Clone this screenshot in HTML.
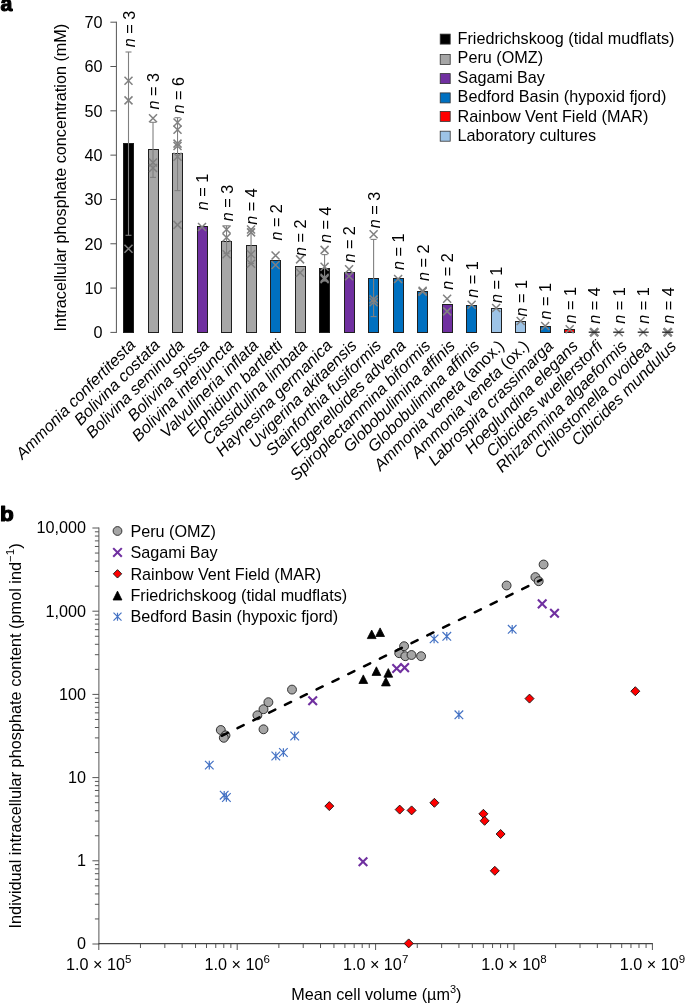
<!DOCTYPE html>
<html><head><meta charset="utf-8"><style>
html,body{margin:0;padding:0;background:#fff;overflow:hidden;}
svg{display:block;will-change:transform;}
text{font-family:"Liberation Sans", sans-serif;fill:#000;}
.b{font-weight:bold;}
</style></head><body>
<svg width="685" height="1004" viewBox="0 0 685 1004">
<text transform="translate(0.4,11.4) scale(0.99,1)" class="b" font-size="21.5" stroke="#000" stroke-width="1.1" stroke-linejoin="round">a</text>
<line x1="116.4" y1="21.70" x2="116.4" y2="332.90" stroke="#555" stroke-width="1"/>
<line x1="110.4" y1="332.40" x2="116.4" y2="332.40" stroke="#555" stroke-width="1"/>
<text x="102.5" y="338.20" text-anchor="end" font-size="16.2">0</text>
<line x1="110.4" y1="288.09" x2="116.4" y2="288.09" stroke="#555" stroke-width="1"/>
<text x="102.5" y="293.89" text-anchor="end" font-size="16.2">10</text>
<line x1="110.4" y1="243.77" x2="116.4" y2="243.77" stroke="#555" stroke-width="1"/>
<text x="102.5" y="249.57" text-anchor="end" font-size="16.2">20</text>
<line x1="110.4" y1="199.46" x2="116.4" y2="199.46" stroke="#555" stroke-width="1"/>
<text x="102.5" y="205.26" text-anchor="end" font-size="16.2">30</text>
<line x1="110.4" y1="155.14" x2="116.4" y2="155.14" stroke="#555" stroke-width="1"/>
<text x="102.5" y="160.94" text-anchor="end" font-size="16.2">40</text>
<line x1="110.4" y1="110.83" x2="116.4" y2="110.83" stroke="#555" stroke-width="1"/>
<text x="102.5" y="116.63" text-anchor="end" font-size="16.2">50</text>
<line x1="110.4" y1="66.51" x2="116.4" y2="66.51" stroke="#555" stroke-width="1"/>
<text x="102.5" y="72.31" text-anchor="end" font-size="16.2">60</text>
<line x1="110.4" y1="22.20" x2="116.4" y2="22.20" stroke="#555" stroke-width="1"/>
<text x="102.5" y="28.00" text-anchor="end" font-size="16.2">70</text>
<text transform="translate(66.4,177.7) rotate(-90)" text-anchor="middle" font-size="16.2">Intracellular phosphate concentration (mM)</text>
<rect x="123.50" y="143.50" width="10" height="189.00" fill="#000000" stroke="#1f1f1f" stroke-width="1.0"/>
<line x1="128.50" y1="52.00" x2="128.50" y2="235.30" stroke="#808080" stroke-width="1.1"/>
<line x1="125.50" y1="52.00" x2="131.50" y2="52.00" stroke="#808080" stroke-width="1.1"/>
<line x1="125.50" y1="235.30" x2="131.50" y2="235.30" stroke="#808080" stroke-width="1.1"/>
<path d="M124.50 76.70L132.50 84.70M124.50 84.70L132.50 76.70" stroke="#808080" stroke-width="1.5" fill="none"/>
<path d="M124.50 96.40L132.50 104.40M124.50 104.40L132.50 96.40" stroke="#808080" stroke-width="1.5" fill="none"/>
<path d="M124.50 244.80L132.50 252.80M124.50 252.80L132.50 244.80" stroke="#808080" stroke-width="1.5" fill="none"/>
<text transform="translate(134.70,47.20) rotate(-90)" font-size="16.2"><tspan font-style="italic">n</tspan> = 3</text>
<text transform="translate(136.30,346.00) rotate(-45)" text-anchor="end" font-size="16.2" font-style="italic">Ammonia confertitesta</text>
<rect x="148.50" y="149.50" width="10" height="183.00" fill="#a6a6a6" stroke="#1f1f1f" stroke-width="1.0"/>
<line x1="153.01" y1="122.30" x2="153.01" y2="177.40" stroke="#808080" stroke-width="1.1"/>
<line x1="150.01" y1="122.30" x2="156.01" y2="122.30" stroke="#808080" stroke-width="1.1"/>
<line x1="150.01" y1="177.40" x2="156.01" y2="177.40" stroke="#808080" stroke-width="1.1"/>
<path d="M149.01 114.30L157.01 122.30M149.01 122.30L157.01 114.30" stroke="#808080" stroke-width="1.5" fill="none"/>
<path d="M149.01 158.50L157.01 166.50M149.01 166.50L157.01 158.50" stroke="#808080" stroke-width="1.5" fill="none"/>
<path d="M149.01 164.00L157.01 172.00M149.01 172.00L157.01 164.00" stroke="#808080" stroke-width="1.5" fill="none"/>
<text transform="translate(159.21,109.50) rotate(-90)" font-size="16.2"><tspan font-style="italic">n</tspan> = 3</text>
<text transform="translate(160.89,346.06) rotate(-45)" text-anchor="end" font-size="16.2" font-style="italic">Bolivina costata</text>
<rect x="172.50" y="153.50" width="10" height="179.00" fill="#a6a6a6" stroke="#1f1f1f" stroke-width="1.0"/>
<line x1="177.52" y1="117.70" x2="177.52" y2="190.60" stroke="#808080" stroke-width="1.1"/>
<line x1="174.52" y1="117.70" x2="180.52" y2="117.70" stroke="#808080" stroke-width="1.1"/>
<line x1="174.52" y1="190.60" x2="180.52" y2="190.60" stroke="#808080" stroke-width="1.1"/>
<path d="M173.52 118.50L181.52 126.50M173.52 126.50L181.52 118.50" stroke="#808080" stroke-width="1.5" fill="none"/>
<path d="M173.52 125.70L181.52 133.70M173.52 133.70L181.52 125.70" stroke="#808080" stroke-width="1.5" fill="none"/>
<path d="M173.52 139.60L181.52 147.60M173.52 147.60L181.52 139.60" stroke="#808080" stroke-width="1.5" fill="none"/>
<path d="M173.52 142.00L181.52 150.00M173.52 150.00L181.52 142.00" stroke="#808080" stroke-width="1.5" fill="none"/>
<path d="M173.52 152.70L181.52 160.70M173.52 160.70L181.52 152.70" stroke="#808080" stroke-width="1.5" fill="none"/>
<path d="M173.52 220.90L181.52 228.90M173.52 228.90L181.52 220.90" stroke="#808080" stroke-width="1.5" fill="none"/>
<text transform="translate(183.72,113.40) rotate(-90)" font-size="16.2"><tspan font-style="italic">n</tspan> = 6</text>
<text transform="translate(185.48,346.12) rotate(-45)" text-anchor="end" font-size="16.2" font-style="italic">Bolivina seminuda</text>
<rect x="197.50" y="226.50" width="10" height="106.00" fill="#7030a0" stroke="#1f1f1f" stroke-width="1.0"/>
<path d="M198.03 223.00L206.03 231.00M198.03 231.00L206.03 223.00" stroke="#808080" stroke-width="1.5" fill="none"/>
<text transform="translate(208.23,210.20) rotate(-90)" font-size="16.2"><tspan font-style="italic">n</tspan> = 1</text>
<text transform="translate(210.07,346.18) rotate(-45)" text-anchor="end" font-size="16.2" font-style="italic">Bolivina spissa</text>
<rect x="221.50" y="241.50" width="10" height="91.00" fill="#a6a6a6" stroke="#1f1f1f" stroke-width="1.0"/>
<line x1="226.54" y1="225.80" x2="226.54" y2="253.60" stroke="#808080" stroke-width="1.1"/>
<line x1="223.54" y1="225.80" x2="229.54" y2="225.80" stroke="#808080" stroke-width="1.1"/>
<line x1="223.54" y1="253.60" x2="229.54" y2="253.60" stroke="#808080" stroke-width="1.1"/>
<path d="M222.54 225.50L230.54 233.50M222.54 233.50L230.54 225.50" stroke="#808080" stroke-width="1.5" fill="none"/>
<path d="M222.54 233.50L230.54 241.50M222.54 241.50L230.54 233.50" stroke="#808080" stroke-width="1.5" fill="none"/>
<path d="M222.54 250.30L230.54 258.30M222.54 258.30L230.54 250.30" stroke="#808080" stroke-width="1.5" fill="none"/>
<text transform="translate(232.74,221.20) rotate(-90)" font-size="16.2"><tspan font-style="italic">n</tspan> = 3</text>
<text transform="translate(234.66,346.24) rotate(-45)" text-anchor="end" font-size="16.2" font-style="italic">Bolivina interjuncta</text>
<rect x="246.50" y="245.50" width="10" height="87.00" fill="#a6a6a6" stroke="#1f1f1f" stroke-width="1.0"/>
<line x1="251.05" y1="229.00" x2="251.05" y2="263.50" stroke="#808080" stroke-width="1.1"/>
<line x1="248.05" y1="229.00" x2="254.05" y2="229.00" stroke="#808080" stroke-width="1.1"/>
<line x1="248.05" y1="263.50" x2="254.05" y2="263.50" stroke="#808080" stroke-width="1.1"/>
<path d="M247.05 225.50L255.05 233.50M247.05 233.50L255.05 225.50" stroke="#808080" stroke-width="1.5" fill="none"/>
<path d="M247.05 228.40L255.05 236.40M247.05 236.40L255.05 228.40" stroke="#808080" stroke-width="1.5" fill="none"/>
<path d="M247.05 250.30L255.05 258.30M247.05 258.30L255.05 250.30" stroke="#808080" stroke-width="1.5" fill="none"/>
<path d="M247.05 259.80L255.05 267.80M247.05 267.80L255.05 259.80" stroke="#808080" stroke-width="1.5" fill="none"/>
<text transform="translate(257.25,224.80) rotate(-90)" font-size="16.2"><tspan font-style="italic">n</tspan> = 4</text>
<text transform="translate(259.25,346.30) rotate(-45)" text-anchor="end" font-size="16.2" font-style="italic">Valvulineria inflata</text>
<rect x="270.50" y="260.50" width="10" height="72.00" fill="#0070c0" stroke="#1f1f1f" stroke-width="1.0"/>
<path d="M271.56 251.50L279.56 259.50M271.56 259.50L279.56 251.50" stroke="#808080" stroke-width="1.5" fill="none"/>
<path d="M271.56 261.00L279.56 269.00M271.56 269.00L279.56 261.00" stroke="#808080" stroke-width="1.5" fill="none"/>
<text transform="translate(281.76,240.60) rotate(-90)" font-size="16.2"><tspan font-style="italic">n</tspan> = 2</text>
<text transform="translate(283.84,346.36) rotate(-45)" text-anchor="end" font-size="16.2" font-style="italic">Elphidium bartletti</text>
<rect x="295.50" y="266.50" width="10" height="66.00" fill="#a6a6a6" stroke="#1f1f1f" stroke-width="1.0"/>
<path d="M296.07 255.40L304.07 263.40M296.07 263.40L304.07 255.40" stroke="#808080" stroke-width="1.5" fill="none"/>
<path d="M296.07 268.80L304.07 276.80M296.07 276.80L304.07 268.80" stroke="#808080" stroke-width="1.5" fill="none"/>
<text transform="translate(306.27,256.00) rotate(-90)" font-size="16.2"><tspan font-style="italic">n</tspan> = 2</text>
<text transform="translate(308.43,346.42) rotate(-45)" text-anchor="end" font-size="16.2" font-style="italic">Cassidulina limbata</text>
<rect x="319.50" y="268.50" width="10" height="64.00" fill="#000000" stroke="#1f1f1f" stroke-width="1.0"/>
<line x1="324.58" y1="254.60" x2="324.58" y2="281.00" stroke="#808080" stroke-width="1.1"/>
<line x1="321.58" y1="254.60" x2="327.58" y2="254.60" stroke="#808080" stroke-width="1.1"/>
<line x1="321.58" y1="281.00" x2="327.58" y2="281.00" stroke="#808080" stroke-width="1.1"/>
<path d="M320.58 245.90L328.58 253.90M320.58 253.90L328.58 245.90" stroke="#808080" stroke-width="1.5" fill="none"/>
<path d="M320.58 262.70L328.58 270.70M320.58 270.70L328.58 262.70" stroke="#808080" stroke-width="1.5" fill="none"/>
<path d="M320.58 273.70L328.58 281.70M320.58 281.70L328.58 273.70" stroke="#808080" stroke-width="1.5" fill="none"/>
<path d="M320.58 275.10L328.58 283.10M320.58 283.10L328.58 275.10" stroke="#808080" stroke-width="1.5" fill="none"/>
<text transform="translate(330.78,242.90) rotate(-90)" font-size="16.2"><tspan font-style="italic">n</tspan> = 4</text>
<text transform="translate(333.02,346.48) rotate(-45)" text-anchor="end" font-size="16.2" font-style="italic">Haynesina germanica</text>
<rect x="344.50" y="272.50" width="10" height="60.00" fill="#7030a0" stroke="#1f1f1f" stroke-width="1.0"/>
<path d="M345.09 265.30L353.09 273.30M345.09 273.30L353.09 265.30" stroke="#808080" stroke-width="1.5" fill="none"/>
<path d="M345.09 272.20L353.09 280.20M345.09 280.20L353.09 272.20" stroke="#808080" stroke-width="1.5" fill="none"/>
<text transform="translate(355.29,262.60) rotate(-90)" font-size="16.2"><tspan font-style="italic">n</tspan> = 2</text>
<text transform="translate(357.61,346.54) rotate(-45)" text-anchor="end" font-size="16.2" font-style="italic">Uvigerina akitaensis</text>
<rect x="368.50" y="278.50" width="10" height="54.00" fill="#0070c0" stroke="#1f1f1f" stroke-width="1.0"/>
<line x1="373.60" y1="239.40" x2="373.60" y2="316.60" stroke="#808080" stroke-width="1.1"/>
<line x1="370.60" y1="239.40" x2="376.60" y2="239.40" stroke="#808080" stroke-width="1.1"/>
<line x1="370.60" y1="316.60" x2="376.60" y2="316.60" stroke="#808080" stroke-width="1.1"/>
<path d="M369.60 230.20L377.60 238.20M369.60 238.20L377.60 230.20" stroke="#808080" stroke-width="1.5" fill="none"/>
<path d="M369.60 295.40L377.60 303.40M369.60 303.40L377.60 295.40" stroke="#808080" stroke-width="1.5" fill="none"/>
<path d="M369.60 298.30L377.60 306.30M369.60 306.30L377.60 298.30" stroke="#808080" stroke-width="1.5" fill="none"/>
<text transform="translate(379.80,228.30) rotate(-90)" font-size="16.2"><tspan font-style="italic">n</tspan> = 3</text>
<text transform="translate(382.20,346.60) rotate(-45)" text-anchor="end" font-size="16.2" font-style="italic">Stainforthia fusiformis</text>
<rect x="393.50" y="278.50" width="10" height="54.00" fill="#0070c0" stroke="#1f1f1f" stroke-width="1.0"/>
<path d="M394.11 275.00L402.11 283.00M394.11 283.00L402.11 275.00" stroke="#808080" stroke-width="1.5" fill="none"/>
<text transform="translate(404.31,269.90) rotate(-90)" font-size="16.2"><tspan font-style="italic">n</tspan> = 1</text>
<text transform="translate(406.79,346.66) rotate(-45)" text-anchor="end" font-size="16.2" font-style="italic">Eggerelloides advena</text>
<rect x="417.50" y="291.50" width="10" height="41.00" fill="#0070c0" stroke="#1f1f1f" stroke-width="1.0"/>
<path d="M418.62 286.70L426.62 294.70M418.62 294.70L426.62 286.70" stroke="#808080" stroke-width="1.5" fill="none"/>
<path d="M418.62 287.80L426.62 295.80M418.62 295.80L426.62 287.80" stroke="#808080" stroke-width="1.5" fill="none"/>
<text transform="translate(428.82,280.90) rotate(-90)" font-size="16.2"><tspan font-style="italic">n</tspan> = 2</text>
<text transform="translate(431.38,346.72) rotate(-45)" text-anchor="end" font-size="16.2" font-style="italic">Spiroplectammina biformis</text>
<rect x="442.50" y="304.50" width="10" height="28.00" fill="#7030a0" stroke="#1f1f1f" stroke-width="1.0"/>
<path d="M443.13 294.70L451.13 302.70M443.13 302.70L451.13 294.70" stroke="#808080" stroke-width="1.5" fill="none"/>
<path d="M443.13 307.40L451.13 315.40M443.13 315.40L451.13 307.40" stroke="#808080" stroke-width="1.5" fill="none"/>
<text transform="translate(453.33,289.70) rotate(-90)" font-size="16.2"><tspan font-style="italic">n</tspan> = 2</text>
<text transform="translate(455.97,346.78) rotate(-45)" text-anchor="end" font-size="16.2" font-style="italic">Globobulimina affinis</text>
<rect x="466.50" y="305.50" width="10" height="27.00" fill="#0070c0" stroke="#1f1f1f" stroke-width="1.0"/>
<path d="M467.64 300.80L475.64 308.80M467.64 308.80L475.64 300.80" stroke="#808080" stroke-width="1.5" fill="none"/>
<text transform="translate(477.84,297.70) rotate(-90)" font-size="16.2"><tspan font-style="italic">n</tspan> = 1</text>
<text transform="translate(480.56,346.84) rotate(-45)" text-anchor="end" font-size="16.2" font-style="italic">Globobulimina affinis</text>
<rect x="491.50" y="308.50" width="10" height="24.00" fill="#9dc3e6" stroke="#1f1f1f" stroke-width="1.0"/>
<path d="M492.15 304.00L500.15 312.00M492.15 312.00L500.15 304.00" stroke="#808080" stroke-width="1.5" fill="none"/>
<text transform="translate(502.35,303.10) rotate(-90)" font-size="16.2"><tspan font-style="italic">n</tspan> = 1</text>
<text transform="translate(505.15,346.90) rotate(-45)" text-anchor="end" font-size="16.2"><tspan font-style="italic">Ammonia veneta</tspan> (anox.)</text>
<rect x="515.50" y="321.50" width="10" height="11.00" fill="#9dc3e6" stroke="#1f1f1f" stroke-width="1.0"/>
<path d="M516.66 317.00L524.66 325.00M516.66 325.00L524.66 317.00" stroke="#808080" stroke-width="1.5" fill="none"/>
<text transform="translate(526.86,316.50) rotate(-90)" font-size="16.2"><tspan font-style="italic">n</tspan> = 1</text>
<text transform="translate(529.74,346.96) rotate(-45)" text-anchor="end" font-size="16.2"><tspan font-style="italic">Ammonia veneta</tspan> (ox.)</text>
<rect x="540.50" y="326.50" width="10" height="6.00" fill="#0070c0" stroke="#1f1f1f" stroke-width="1.0"/>
<path d="M541.17 322.00L549.17 330.00M541.17 330.00L549.17 322.00" stroke="#808080" stroke-width="1.5" fill="none"/>
<text transform="translate(551.37,319.40) rotate(-90)" font-size="16.2"><tspan font-style="italic">n</tspan> = 1</text>
<text transform="translate(554.33,347.02) rotate(-45)" text-anchor="end" font-size="16.2" font-style="italic">Labrospira crassimarga</text>
<rect x="564.50" y="329.50" width="10" height="3.00" fill="#ff0000" stroke="#1f1f1f" stroke-width="1.0"/>
<path d="M565.68 325.30L573.68 333.30M565.68 333.30L573.68 325.30" stroke="#808080" stroke-width="1.5" fill="none"/>
<text transform="translate(575.88,323.50) rotate(-90)" font-size="16.2"><tspan font-style="italic">n</tspan> = 1</text>
<text transform="translate(578.92,347.08) rotate(-45)" text-anchor="end" font-size="16.2" font-style="italic">Hoeglundina elegans</text>
<path d="M590.19 328.30L598.19 336.30M590.19 336.30L598.19 328.30" stroke="#808080" stroke-width="2.2" fill="none"/>
<path d="M590.19 328.30L598.19 336.30M590.19 336.30L598.19 328.30" stroke="#808080" stroke-width="2.2" fill="none"/>
<line x1="588.69" y1="332.2" x2="599.69" y2="332.2" stroke="#1f1f1f" stroke-width="1.3"/>
<text transform="translate(600.39,323.80) rotate(-90)" font-size="16.2"><tspan font-style="italic">n</tspan> = 4</text>
<text transform="translate(603.51,347.14) rotate(-45)" text-anchor="end" font-size="16.2" font-style="italic">Cibicides wuellerstorfi</text>
<path d="M614.70 328.30L622.70 336.30M614.70 336.30L622.70 328.30" stroke="#808080" stroke-width="1.5" fill="none"/>
<line x1="613.20" y1="332.2" x2="624.20" y2="332.2" stroke="#1f1f1f" stroke-width="1.3"/>
<text transform="translate(624.90,323.80) rotate(-90)" font-size="16.2"><tspan font-style="italic">n</tspan> = 1</text>
<text transform="translate(628.10,347.20) rotate(-45)" text-anchor="end" font-size="16.2" font-style="italic">Rhizammina algaeformis</text>
<path d="M639.21 328.30L647.21 336.30M639.21 336.30L647.21 328.30" stroke="#808080" stroke-width="1.5" fill="none"/>
<line x1="637.71" y1="332.2" x2="648.71" y2="332.2" stroke="#1f1f1f" stroke-width="1.3"/>
<text transform="translate(649.41,323.80) rotate(-90)" font-size="16.2"><tspan font-style="italic">n</tspan> = 1</text>
<text transform="translate(652.69,347.26) rotate(-45)" text-anchor="end" font-size="16.2" font-style="italic">Chilostomella ovoidea</text>
<path d="M663.72 328.30L671.72 336.30M663.72 336.30L671.72 328.30" stroke="#808080" stroke-width="2.2" fill="none"/>
<path d="M663.72 328.30L671.72 336.30M663.72 336.30L671.72 328.30" stroke="#808080" stroke-width="2.2" fill="none"/>
<line x1="662.22" y1="332.2" x2="673.22" y2="332.2" stroke="#1f1f1f" stroke-width="1.3"/>
<text transform="translate(673.92,323.80) rotate(-90)" font-size="16.2"><tspan font-style="italic">n</tspan> = 4</text>
<text transform="translate(677.28,347.32) rotate(-45)" text-anchor="end" font-size="16.2" font-style="italic">Cibicides mundulus</text>
<rect x="440.2" y="34.10" width="10" height="10" fill="#000000" stroke="#333" stroke-width="0.8"/>
<text x="457.6" y="44.00" font-size="16.2">Friedrichskoog (tidal mudflats)</text>
<rect x="440.2" y="54.40" width="10" height="10" fill="#a6a6a6" stroke="#333" stroke-width="0.8"/>
<text x="457.6" y="63.42" font-size="16.2">Peru (OMZ)</text>
<rect x="440.2" y="73.60" width="10" height="10" fill="#7030a0" stroke="#333" stroke-width="0.8"/>
<text x="457.6" y="82.84" font-size="16.2">Sagami Bay</text>
<rect x="440.2" y="92.90" width="10" height="10" fill="#0070c0" stroke="#333" stroke-width="0.8"/>
<text x="457.6" y="102.26" font-size="16.2">Bedford Basin (hypoxid fjord)</text>
<rect x="440.2" y="111.40" width="10" height="10" fill="#ff0000" stroke="#333" stroke-width="0.8"/>
<text x="457.6" y="121.68" font-size="16.2">Rainbow Vent Field (MAR)</text>
<rect x="440.2" y="131.20" width="10" height="10" fill="#9dc3e6" stroke="#333" stroke-width="0.8"/>
<text x="457.6" y="141.10" font-size="16.2">Laboratory cultures</text>
<text transform="translate(-0.1,521.0) scale(1.1,1)" class="b" font-size="20.5" stroke="#000" stroke-width="1.1" stroke-linejoin="round">b</text>
<line x1="98.9" y1="527.50" x2="98.9" y2="944.50" stroke="#555" stroke-width="1"/>
<line x1="98.4" y1="943.7" x2="652.90" y2="943.7" stroke="#444" stroke-width="1.3"/>
<line x1="92.4" y1="944.00" x2="98.9" y2="944.00" stroke="#555" stroke-width="1"/>
<line x1="94.9" y1="918.95" x2="98.9" y2="918.95" stroke="#555" stroke-width="1"/>
<line x1="94.9" y1="904.30" x2="98.9" y2="904.30" stroke="#555" stroke-width="1"/>
<line x1="94.9" y1="893.91" x2="98.9" y2="893.91" stroke="#555" stroke-width="1"/>
<line x1="94.9" y1="885.85" x2="98.9" y2="885.85" stroke="#555" stroke-width="1"/>
<line x1="94.9" y1="879.26" x2="98.9" y2="879.26" stroke="#555" stroke-width="1"/>
<line x1="94.9" y1="873.69" x2="98.9" y2="873.69" stroke="#555" stroke-width="1"/>
<line x1="94.9" y1="868.86" x2="98.9" y2="868.86" stroke="#555" stroke-width="1"/>
<line x1="94.9" y1="864.61" x2="98.9" y2="864.61" stroke="#555" stroke-width="1"/>
<line x1="92.4" y1="860.80" x2="98.9" y2="860.80" stroke="#555" stroke-width="1"/>
<line x1="94.9" y1="835.75" x2="98.9" y2="835.75" stroke="#555" stroke-width="1"/>
<line x1="94.9" y1="821.10" x2="98.9" y2="821.10" stroke="#555" stroke-width="1"/>
<line x1="94.9" y1="810.71" x2="98.9" y2="810.71" stroke="#555" stroke-width="1"/>
<line x1="94.9" y1="802.65" x2="98.9" y2="802.65" stroke="#555" stroke-width="1"/>
<line x1="94.9" y1="796.06" x2="98.9" y2="796.06" stroke="#555" stroke-width="1"/>
<line x1="94.9" y1="790.49" x2="98.9" y2="790.49" stroke="#555" stroke-width="1"/>
<line x1="94.9" y1="785.66" x2="98.9" y2="785.66" stroke="#555" stroke-width="1"/>
<line x1="94.9" y1="781.41" x2="98.9" y2="781.41" stroke="#555" stroke-width="1"/>
<line x1="92.4" y1="777.60" x2="98.9" y2="777.60" stroke="#555" stroke-width="1"/>
<line x1="94.9" y1="752.55" x2="98.9" y2="752.55" stroke="#555" stroke-width="1"/>
<line x1="94.9" y1="737.90" x2="98.9" y2="737.90" stroke="#555" stroke-width="1"/>
<line x1="94.9" y1="727.51" x2="98.9" y2="727.51" stroke="#555" stroke-width="1"/>
<line x1="94.9" y1="719.45" x2="98.9" y2="719.45" stroke="#555" stroke-width="1"/>
<line x1="94.9" y1="712.86" x2="98.9" y2="712.86" stroke="#555" stroke-width="1"/>
<line x1="94.9" y1="707.29" x2="98.9" y2="707.29" stroke="#555" stroke-width="1"/>
<line x1="94.9" y1="702.46" x2="98.9" y2="702.46" stroke="#555" stroke-width="1"/>
<line x1="94.9" y1="698.21" x2="98.9" y2="698.21" stroke="#555" stroke-width="1"/>
<line x1="92.4" y1="694.40" x2="98.9" y2="694.40" stroke="#555" stroke-width="1"/>
<line x1="94.9" y1="669.35" x2="98.9" y2="669.35" stroke="#555" stroke-width="1"/>
<line x1="94.9" y1="654.70" x2="98.9" y2="654.70" stroke="#555" stroke-width="1"/>
<line x1="94.9" y1="644.31" x2="98.9" y2="644.31" stroke="#555" stroke-width="1"/>
<line x1="94.9" y1="636.25" x2="98.9" y2="636.25" stroke="#555" stroke-width="1"/>
<line x1="94.9" y1="629.66" x2="98.9" y2="629.66" stroke="#555" stroke-width="1"/>
<line x1="94.9" y1="624.09" x2="98.9" y2="624.09" stroke="#555" stroke-width="1"/>
<line x1="94.9" y1="619.26" x2="98.9" y2="619.26" stroke="#555" stroke-width="1"/>
<line x1="94.9" y1="615.01" x2="98.9" y2="615.01" stroke="#555" stroke-width="1"/>
<line x1="92.4" y1="611.20" x2="98.9" y2="611.20" stroke="#555" stroke-width="1"/>
<line x1="94.9" y1="586.15" x2="98.9" y2="586.15" stroke="#555" stroke-width="1"/>
<line x1="94.9" y1="571.50" x2="98.9" y2="571.50" stroke="#555" stroke-width="1"/>
<line x1="94.9" y1="561.11" x2="98.9" y2="561.11" stroke="#555" stroke-width="1"/>
<line x1="94.9" y1="553.05" x2="98.9" y2="553.05" stroke="#555" stroke-width="1"/>
<line x1="94.9" y1="546.46" x2="98.9" y2="546.46" stroke="#555" stroke-width="1"/>
<line x1="94.9" y1="540.89" x2="98.9" y2="540.89" stroke="#555" stroke-width="1"/>
<line x1="94.9" y1="536.06" x2="98.9" y2="536.06" stroke="#555" stroke-width="1"/>
<line x1="94.9" y1="531.81" x2="98.9" y2="531.81" stroke="#555" stroke-width="1"/>
<line x1="92.4" y1="528.00" x2="98.9" y2="528.00" stroke="#555" stroke-width="1"/>
<text x="86.1" y="533.30" text-anchor="end" font-size="16.2">10,000</text>
<text x="86.1" y="616.50" text-anchor="end" font-size="16.2">1,000</text>
<text x="86.1" y="699.70" text-anchor="end" font-size="16.2">100</text>
<text x="86.1" y="782.90" text-anchor="end" font-size="16.2">10</text>
<text x="86.1" y="866.10" text-anchor="end" font-size="16.2">1</text>
<text x="86.1" y="949.30" text-anchor="end" font-size="16.2">0</text>
<line x1="98.80" y1="944.0" x2="98.80" y2="950.0" stroke="#555" stroke-width="1"/>
<line x1="140.46" y1="944.0" x2="140.46" y2="948.0" stroke="#555" stroke-width="1"/>
<line x1="164.83" y1="944.0" x2="164.83" y2="948.0" stroke="#555" stroke-width="1"/>
<line x1="182.13" y1="944.0" x2="182.13" y2="948.0" stroke="#555" stroke-width="1"/>
<line x1="195.54" y1="944.0" x2="195.54" y2="948.0" stroke="#555" stroke-width="1"/>
<line x1="206.50" y1="944.0" x2="206.50" y2="948.0" stroke="#555" stroke-width="1"/>
<line x1="215.76" y1="944.0" x2="215.76" y2="948.0" stroke="#555" stroke-width="1"/>
<line x1="223.79" y1="944.0" x2="223.79" y2="948.0" stroke="#555" stroke-width="1"/>
<line x1="230.87" y1="944.0" x2="230.87" y2="948.0" stroke="#555" stroke-width="1"/>
<text x="98.80" y="969.9" text-anchor="middle" font-size="16.2">1.0 × 10<tspan dy="-7.3" font-size="11.5">5</tspan></text>
<line x1="237.20" y1="944.0" x2="237.20" y2="950.0" stroke="#555" stroke-width="1"/>
<line x1="278.86" y1="944.0" x2="278.86" y2="948.0" stroke="#555" stroke-width="1"/>
<line x1="303.23" y1="944.0" x2="303.23" y2="948.0" stroke="#555" stroke-width="1"/>
<line x1="320.53" y1="944.0" x2="320.53" y2="948.0" stroke="#555" stroke-width="1"/>
<line x1="333.94" y1="944.0" x2="333.94" y2="948.0" stroke="#555" stroke-width="1"/>
<line x1="344.90" y1="944.0" x2="344.90" y2="948.0" stroke="#555" stroke-width="1"/>
<line x1="354.16" y1="944.0" x2="354.16" y2="948.0" stroke="#555" stroke-width="1"/>
<line x1="362.19" y1="944.0" x2="362.19" y2="948.0" stroke="#555" stroke-width="1"/>
<line x1="369.27" y1="944.0" x2="369.27" y2="948.0" stroke="#555" stroke-width="1"/>
<text x="237.20" y="969.9" text-anchor="middle" font-size="16.2">1.0 × 10<tspan dy="-7.3" font-size="11.5">6</tspan></text>
<line x1="375.60" y1="944.0" x2="375.60" y2="950.0" stroke="#555" stroke-width="1"/>
<line x1="417.26" y1="944.0" x2="417.26" y2="948.0" stroke="#555" stroke-width="1"/>
<line x1="441.63" y1="944.0" x2="441.63" y2="948.0" stroke="#555" stroke-width="1"/>
<line x1="458.93" y1="944.0" x2="458.93" y2="948.0" stroke="#555" stroke-width="1"/>
<line x1="472.34" y1="944.0" x2="472.34" y2="948.0" stroke="#555" stroke-width="1"/>
<line x1="483.30" y1="944.0" x2="483.30" y2="948.0" stroke="#555" stroke-width="1"/>
<line x1="492.56" y1="944.0" x2="492.56" y2="948.0" stroke="#555" stroke-width="1"/>
<line x1="500.59" y1="944.0" x2="500.59" y2="948.0" stroke="#555" stroke-width="1"/>
<line x1="507.67" y1="944.0" x2="507.67" y2="948.0" stroke="#555" stroke-width="1"/>
<text x="375.60" y="969.9" text-anchor="middle" font-size="16.2">1.0 × 10<tspan dy="-7.3" font-size="11.5">7</tspan></text>
<line x1="514.00" y1="944.0" x2="514.00" y2="950.0" stroke="#555" stroke-width="1"/>
<line x1="555.66" y1="944.0" x2="555.66" y2="948.0" stroke="#555" stroke-width="1"/>
<line x1="580.03" y1="944.0" x2="580.03" y2="948.0" stroke="#555" stroke-width="1"/>
<line x1="597.33" y1="944.0" x2="597.33" y2="948.0" stroke="#555" stroke-width="1"/>
<line x1="610.74" y1="944.0" x2="610.74" y2="948.0" stroke="#555" stroke-width="1"/>
<line x1="621.70" y1="944.0" x2="621.70" y2="948.0" stroke="#555" stroke-width="1"/>
<line x1="630.96" y1="944.0" x2="630.96" y2="948.0" stroke="#555" stroke-width="1"/>
<line x1="638.99" y1="944.0" x2="638.99" y2="948.0" stroke="#555" stroke-width="1"/>
<line x1="646.07" y1="944.0" x2="646.07" y2="948.0" stroke="#555" stroke-width="1"/>
<text x="514.00" y="969.9" text-anchor="middle" font-size="16.2">1.0 × 10<tspan dy="-7.3" font-size="11.5">8</tspan></text>
<line x1="652.40" y1="944.0" x2="652.40" y2="950.0" stroke="#555" stroke-width="1"/>
<text x="652.40" y="969.9" text-anchor="middle" font-size="16.2">1.0 × 10<tspan dy="-7.3" font-size="11.5">9</tspan></text>
<text x="376.3" y="999.6" text-anchor="middle" font-size="16.2">Mean cell volume (µm<tspan dy="-7" font-size="11">3</tspan><tspan dy="7.3">)</tspan></text>
<text transform="translate(21.2,928.5) rotate(-90)" font-size="16.3">Individual intracellular phosphate content (pmol ind<tspan dy="-7.3" font-size="11.6">−1</tspan><tspan dy="7.3">)</tspan></text>
<path d="M209.30 760.80L209.30 769.40M205.00 760.80L213.60 769.40M205.00 769.40L213.60 760.80" stroke="#4472c4" stroke-width="1.2" fill="none"/>
<path d="M224.20 790.90L224.20 799.50M219.90 790.90L228.50 799.50M219.90 799.50L228.50 790.90" stroke="#4472c4" stroke-width="1.2" fill="none"/>
<path d="M226.40 793.20L226.40 801.80M222.10 793.20L230.70 801.80M222.10 801.80L230.70 793.20" stroke="#4472c4" stroke-width="1.2" fill="none"/>
<path d="M275.80 751.70L275.80 760.30M271.50 751.70L280.10 760.30M271.50 760.30L280.10 751.70" stroke="#4472c4" stroke-width="1.2" fill="none"/>
<path d="M283.40 748.20L283.40 756.80M279.10 748.20L287.70 756.80M279.10 756.80L287.70 748.20" stroke="#4472c4" stroke-width="1.2" fill="none"/>
<path d="M294.70 731.70L294.70 740.30M290.40 731.70L299.00 740.30M290.40 740.30L299.00 731.70" stroke="#4472c4" stroke-width="1.2" fill="none"/>
<path d="M434.10 634.60L434.10 643.20M429.80 634.60L438.40 643.20M429.80 643.20L438.40 634.60" stroke="#4472c4" stroke-width="1.2" fill="none"/>
<path d="M446.80 632.00L446.80 640.60M442.50 632.00L451.10 640.60M442.50 640.60L451.10 632.00" stroke="#4472c4" stroke-width="1.2" fill="none"/>
<path d="M512.20 625.00L512.20 633.60M507.90 625.00L516.50 633.60M507.90 633.60L516.50 625.00" stroke="#4472c4" stroke-width="1.2" fill="none"/>
<path d="M458.90 710.50L458.90 719.10M454.60 710.50L463.20 719.10M454.60 719.10L463.20 710.50" stroke="#4472c4" stroke-width="1.2" fill="none"/>
<path d="M371.70 630.00L376.10 638.60L367.30 638.60Z" fill="#000" stroke="#000" stroke-width="0.8" stroke-linejoin="round"/>
<path d="M380.10 627.90L384.50 636.50L375.70 636.50Z" fill="#000" stroke="#000" stroke-width="0.8" stroke-linejoin="round"/>
<path d="M376.40 666.80L380.80 675.40L372.00 675.40Z" fill="#000" stroke="#000" stroke-width="0.8" stroke-linejoin="round"/>
<path d="M363.30 674.90L367.70 683.50L358.90 683.50Z" fill="#000" stroke="#000" stroke-width="0.8" stroke-linejoin="round"/>
<path d="M388.30 668.60L392.70 677.20L383.90 677.20Z" fill="#000" stroke="#000" stroke-width="0.8" stroke-linejoin="round"/>
<path d="M385.90 677.30L390.30 685.90L381.50 685.90Z" fill="#000" stroke="#000" stroke-width="0.8" stroke-linejoin="round"/>
<circle cx="220.80" cy="730.00" r="4.45" fill="#a5a5a5" stroke="#222" stroke-width="0.9"/>
<circle cx="225.50" cy="735.40" r="4.45" fill="#a5a5a5" stroke="#222" stroke-width="0.9"/>
<circle cx="223.80" cy="737.80" r="4.45" fill="#a5a5a5" stroke="#222" stroke-width="0.9"/>
<circle cx="257.40" cy="715.30" r="4.45" fill="#a5a5a5" stroke="#222" stroke-width="0.9"/>
<circle cx="263.50" cy="709.20" r="4.45" fill="#a5a5a5" stroke="#222" stroke-width="0.9"/>
<circle cx="268.40" cy="702.20" r="4.45" fill="#a5a5a5" stroke="#222" stroke-width="0.9"/>
<circle cx="263.50" cy="729.30" r="4.45" fill="#a5a5a5" stroke="#222" stroke-width="0.9"/>
<circle cx="292.00" cy="689.60" r="4.45" fill="#a5a5a5" stroke="#222" stroke-width="0.9"/>
<circle cx="404.10" cy="646.20" r="4.45" fill="#a5a5a5" stroke="#222" stroke-width="0.9"/>
<circle cx="399.20" cy="653.20" r="4.45" fill="#a5a5a5" stroke="#222" stroke-width="0.9"/>
<circle cx="405.30" cy="656.20" r="4.45" fill="#a5a5a5" stroke="#222" stroke-width="0.9"/>
<circle cx="411.50" cy="655.00" r="4.45" fill="#a5a5a5" stroke="#222" stroke-width="0.9"/>
<circle cx="421.10" cy="656.20" r="4.45" fill="#a5a5a5" stroke="#222" stroke-width="0.9"/>
<circle cx="506.60" cy="585.50" r="4.45" fill="#a5a5a5" stroke="#222" stroke-width="0.9"/>
<circle cx="535.40" cy="577.10" r="4.45" fill="#a5a5a5" stroke="#222" stroke-width="0.9"/>
<circle cx="538.70" cy="581.20" r="4.45" fill="#a5a5a5" stroke="#222" stroke-width="0.9"/>
<circle cx="543.60" cy="564.50" r="4.45" fill="#a5a5a5" stroke="#222" stroke-width="0.9"/>
<path d="M308.40 696.50L317.00 705.10M308.40 705.10L317.00 696.50" stroke="#7030a0" stroke-width="2.1" fill="none"/>
<path d="M392.40 664.20L401.00 672.80M392.40 672.80L401.00 664.20" stroke="#7030a0" stroke-width="2.1" fill="none"/>
<path d="M400.30 663.30L408.90 671.90M400.30 671.90L408.90 663.30" stroke="#7030a0" stroke-width="2.1" fill="none"/>
<path d="M537.90 599.60L546.50 608.20M537.90 608.20L546.50 599.60" stroke="#7030a0" stroke-width="2.1" fill="none"/>
<path d="M550.20 608.90L558.80 617.50M550.20 617.50L558.80 608.90" stroke="#7030a0" stroke-width="2.1" fill="none"/>
<path d="M358.70 857.50L367.30 866.10M358.70 866.10L367.30 857.50" stroke="#7030a0" stroke-width="2.1" fill="none"/>
<path d="M329.30 801.60L333.80 806.10L329.30 810.60L324.80 806.10Z" fill="#ff0000" stroke="#111" stroke-width="0.9"/>
<path d="M399.70 805.10L404.20 809.60L399.70 814.10L395.20 809.60Z" fill="#ff0000" stroke="#111" stroke-width="0.9"/>
<path d="M411.60 805.90L416.10 810.40L411.60 814.90L407.10 810.40Z" fill="#ff0000" stroke="#111" stroke-width="0.9"/>
<path d="M434.40 798.30L438.90 802.80L434.40 807.30L429.90 802.80Z" fill="#ff0000" stroke="#111" stroke-width="0.9"/>
<path d="M483.40 809.30L487.90 813.80L483.40 818.30L478.90 813.80Z" fill="#ff0000" stroke="#111" stroke-width="0.9"/>
<path d="M484.60 816.30L489.10 820.80L484.60 825.30L480.10 820.80Z" fill="#ff0000" stroke="#111" stroke-width="0.9"/>
<path d="M500.60 829.50L505.10 834.00L500.60 838.50L496.10 834.00Z" fill="#ff0000" stroke="#111" stroke-width="0.9"/>
<path d="M494.80 866.30L499.30 870.80L494.80 875.30L490.30 870.80Z" fill="#ff0000" stroke="#111" stroke-width="0.9"/>
<path d="M529.50 694.10L534.00 698.60L529.50 703.10L525.00 698.60Z" fill="#ff0000" stroke="#111" stroke-width="0.9"/>
<path d="M635.30 686.70L639.80 691.20L635.30 695.70L630.80 691.20Z" fill="#ff0000" stroke="#111" stroke-width="0.9"/>
<path d="M408.70 938.90L413.20 943.40L408.70 947.90L404.20 943.40Z" fill="#ff0000" stroke="#111" stroke-width="0.9"/>
<line x1="221.7" y1="735.8" x2="541.1" y2="579.9" stroke="#000" stroke-width="2.5" stroke-linecap="round" stroke-dasharray="6.8 10.8"/>
<circle cx="117.50" cy="531.00" r="4.4" fill="#a5a5a5" stroke="#222" stroke-width="0.9"/>
<text x="130.4" y="536.80" font-size="16.2">Peru (OMZ)</text>
<path d="M113.20 548.12L121.80 556.72M113.20 556.72L121.80 548.12" stroke="#7030a0" stroke-width="2.1" fill="none"/>
<text x="130.4" y="558.22" font-size="16.2">Sagami Bay</text>
<path d="M117.50 569.64L121.70 573.84L117.50 578.04L113.30 573.84Z" fill="#ff0000" stroke="#111" stroke-width="0.9"/>
<text x="130.4" y="579.64" font-size="16.2">Rainbow Vent Field (MAR)</text>
<path d="M117.50 591.11L121.95 600.01L113.05 600.01Z" fill="#000" stroke="#000" stroke-width="0.8" stroke-linejoin="round"/>
<text x="130.4" y="601.06" font-size="16.2">Friedrichskoog (tidal mudflats)</text>
<path d="M117.50 612.68L117.50 620.68M113.50 612.68L121.50 620.68M113.50 620.68L121.50 612.68" stroke="#4472c4" stroke-width="1.2" fill="none"/>
<text x="130.4" y="622.48" font-size="16.2">Bedford Basin (hypoxic fjord)</text>
</svg>
</body></html>
